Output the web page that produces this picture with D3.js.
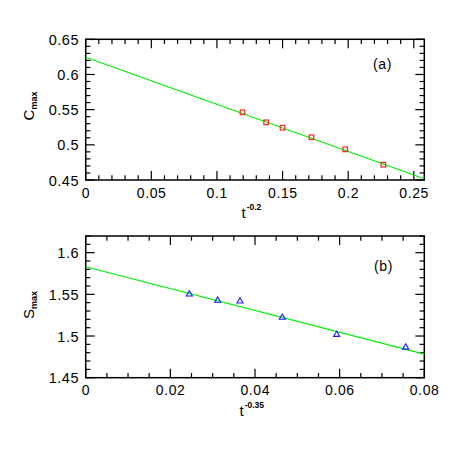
<!DOCTYPE html>
<html><head><meta charset="utf-8">
<script src="https://cdn.jsdelivr.net/npm/d3@7"></script>
<style>body{margin:0;background:#fff}svg{display:block}text{font-family:"Liberation Sans",Arial,sans-serif;fill:#000}</style>
</head><body>
<script>
// Panel (a)
const aX = [0.1195, 0.1375, 0.1500, 0.1720, 0.1978, 0.2268];
const aY = [0.5462, 0.5320, 0.5243, 0.5107, 0.4936, 0.4717];
const aFit = [0.6245, -0.670];   // intercept, slope
const aXTicks = [0, 0.05, 0.1, 0.15, 0.2, 0.25];
const aYTicks = [0.45, 0.5, 0.55, 0.6, 0.65];
// Panel (b)
const bX = [0.02448, 0.03119, 0.03646, 0.04645, 0.05930, 0.07560];
const bY = [1.5502, 1.5427, 1.5418, 1.5222, 1.5017, 1.4864];
const bFit = [1.5831, -1.31];
const bXTicks = [0, 0.02, 0.04, 0.06, 0.08];
const bYTicks = [1.45, 1.5, 1.55, 1.6];

const W = 463, H = 463;
const svg = d3.select("body").append("svg").attr("width", W).attr("height", H);

function panel(o) {
  const x = d3.scaleLinear().domain(o.xd).range([85.7, 424.3]);
  const y = d3.scaleLinear().domain(o.yd).range([o.bottom, o.top]);
  const g = svg.append("g");
  const fmt = d => String(+d.toFixed(3));
  const xMinor = d3.range(o.xd[0], o.xd[1] + 1e-9, o.xm);
  const yMinor = d3.range(o.yd[0], o.yd[1] + 1e-9, o.ym);
  const isMajor = (v, arr) => arr.some(t => Math.abs(t - v) < 1e-9);
  xMinor.forEach(v => {
    const L = isMajor(v, o.xt) ? 9 : 4.7;
    g.append("line").attr("x1", x(v)).attr("x2", x(v)).attr("y1", o.bottom).attr("y2", o.bottom - L).attr("stroke", "#000").attr("stroke-width", 1.2);
    g.append("line").attr("x1", x(v)).attr("x2", x(v)).attr("y1", o.top).attr("y2", o.top + L).attr("stroke", "#000").attr("stroke-width", 1.2);
  });
  yMinor.forEach(v => {
    const L = isMajor(v, o.yt) ? 9 : 4.7;
    g.append("line").attr("y1", y(v)).attr("y2", y(v)).attr("x1", 85.7).attr("x2", 85.7 + L).attr("stroke", "#000").attr("stroke-width", 1.2);
    g.append("line").attr("y1", y(v)).attr("y2", y(v)).attr("x1", 424.3).attr("x2", 424.3 - L).attr("stroke", "#000").attr("stroke-width", 1.2);
  });
  g.append("rect").attr("x", 85.7).attr("y", o.top).attr("width", 424.3 - 85.7).attr("height", o.bottom - o.top)
    .attr("fill", "none").attr("stroke", "#000").attr("stroke-width", 1.5);
  o.xt.forEach(v => g.append("text").attr("x", x(v) + 0.3).attr("y", o.bottom + 17.5).attr("text-anchor", "middle")
    .attr("font-size", 14).attr("letter-spacing", 0.6).text(fmt(v)));
  o.yt.forEach(v => g.append("text").attr("x", 79).attr("y", y(v) + 5.5).attr("text-anchor", "end")
    .attr("font-size", 14.5).attr("letter-spacing", 0.5).text(fmt(v)));
  // fit line
  const x0 = o.xd[0], x1 = o.xd[1];
  g.append("line").attr("x1", x(x0)).attr("y1", y(o.fit[0] + o.fit[1] * x0)).attr("x2", x(x1)).attr("y2", y(o.fit[0] + o.fit[1] * x1))
    .attr("stroke", "#00ee00").attr("stroke-width", 1.1);
  // markers
  o.xs.forEach((xv, i) => {
    const cx = x(xv), cy = y(o.ys[i]);
    if (o.marker === "square") {
      g.append("rect").attr("x", cx - 2.3).attr("y", cy - 2.3).attr("width", 4.6).attr("height", 4.6)
        .attr("fill", "none").attr("stroke", "#ff2020").attr("stroke-width", 1.2);
    } else {
      g.append("path").attr("d", d3.symbol(d3.symbolTriangle, 16)()).attr("transform", `translate(${cx},${cy})`)
        .attr("fill", "none").attr("stroke", "#1a1aff").attr("stroke-width", 1.1);
    }
  });
  // labels
  g.append("text").attr("x", o.lblX).attr("y", o.lblY).attr("font-size", 14).attr("letter-spacing", 0.6).text(o.tag);
  const yl = g.append("text").attr("transform", `translate(${34},${o.ylc}) rotate(-90)`).attr("text-anchor", "middle").attr("font-size", 15);
  yl.append("tspan").text(o.ylab);
  yl.append("tspan").attr("font-size", 9).attr("font-weight", "bold").attr("dy", 3).text("max");
  const xl = g.append("text").attr("x", o.xlx).attr("y", o.xly).attr("font-size", 15);
  xl.append("tspan").text("t");
  xl.append("tspan").attr("font-size", 8.5).attr("font-weight", "bold").attr("dy", -8).attr("dx", 1).text(o.xsup);
}

panel({xd: [0, 0.258], yd: [0.45, 0.65], top: 39.3, bottom: 180, xt: aXTicks, yt: aYTicks, xm: 0.01, ym: 0.01,
  xs: aX, ys: aY, fit: aFit, marker: "square", tag: "(a)", lblX: 373, lblY: 69, ylab: "C", ylc: 106,
  xsup: "-0.2", xlx: 241.5, xly: 218});
panel({xd: [0, 0.08], yd: [1.45, 1.62], top: 236, bottom: 377.7, xt: bXTicks, yt: bYTicks, xm: 0.005, ym: 0.01,
  xs: bX, ys: bY, fit: bFit, marker: "tri", tag: "(b)", lblX: 374, lblY: 271, ylab: "S", ylc: 305,
  xsup: "-0.35", xlx: 239.5, xly: 416});
</script>
</body></html>
